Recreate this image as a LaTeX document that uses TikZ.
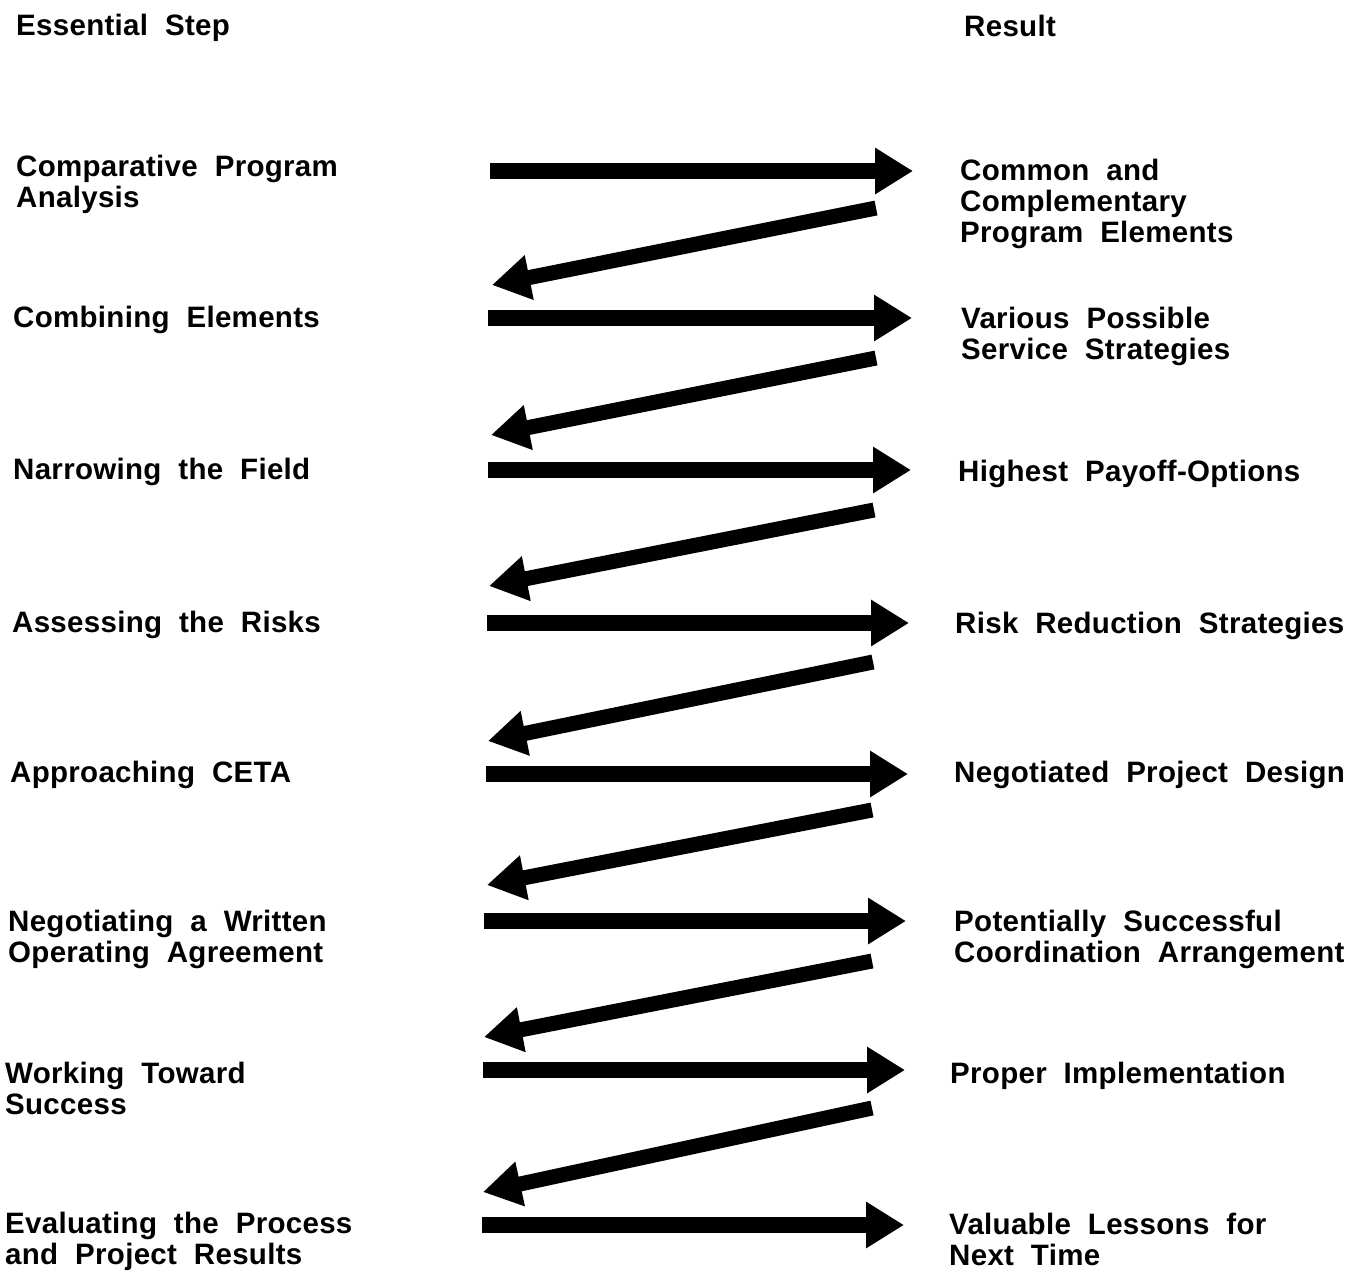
\documentclass[tikz,border=0pt]{standalone}
\usepackage{fontspec}
\setmainfont{Liberation Sans}[LetterSpace=1, WordSpace=2.0]
\usetikzlibrary{arrows.meta}
\tikzset{
  lbl/.style={font=\fontsize{29.5}{31}\selectfont\bfseries, inner sep=0pt, anchor=base west, align=left},
  harrow/.style={line width=16pt, -{Triangle[length=38pt,width=44pt]}},
  darrow/.style={line width=15pt, -{Triangle[length=38pt,width=43pt]}},
}
\begin{document}
\begin{tikzpicture}[x=1pt,y=-1pt]
\fill[white] (0,0) rectangle (1367,1272);
\useasboundingbox (0,0) rectangle (1367,1272);

% headers
\node[lbl] (hstep) at (16,35) {Essential Step};
\node[lbl] (hres) at (964,36) {Result};

% left column (anchor = baseline of last line)
\node[lbl] (l1) at (16,207) {Comparative Program\\Analysis};
\node[lbl] (l2) at (13,327) {Combining Elements};
\node[lbl] (l3) at (13,479) {Narrowing the Field};
\node[lbl] (l4) at (12,632) {Assessing the Risks};
\node[lbl] (l5) at (10,782) {Approaching CETA};
\node[lbl] (l6) at (8,962) {Negotiating a Written\\Operating Agreement};
\node[lbl] (l7) at (5,1114) {Working Toward\\Success};
\node[lbl] (l8) at (5,1264) {Evaluating the Process\\and Project Results};

% right column
\node[lbl] (r1) at (960,242) {Common and\\Complementary\\Program Elements};
\node[lbl] (r2) at (961,359) {Various Possible\\Service Strategies};
\node[lbl] (r3) at (958,481) {Highest Payoff-Options};
\node[lbl] (r4) at (955,633) {Risk Reduction Strategies};
\node[lbl] (r5) at (954,782) {Negotiated Project Design};
\node[lbl] (r6) at (954,962) {Potentially Successful\\Coordination Arrangement};
\node[lbl] (r7) at (950,1083) {Proper Implementation};
\node[lbl] (r8) at (949,1265) {Valuable Lessons for\\Next Time};

% arrow end points
\coordinate (hs1) at (490,171);  \coordinate (he1) at (913,171);
\coordinate (hs2) at (488,318);  \coordinate (he2) at (912,318);
\coordinate (hs3) at (488,470);  \coordinate (he3) at (911,470);
\coordinate (hs4) at (487,623);  \coordinate (he4) at (909,623);
\coordinate (hs5) at (486,774);  \coordinate (he5) at (908,774);
\coordinate (hs6) at (484,921);  \coordinate (he6) at (906,921);
\coordinate (hs7) at (483,1070); \coordinate (he7) at (905,1070);
\coordinate (hs8) at (482,1225); \coordinate (he8) at (904,1225);

\coordinate (ds1) at (876,208);  \coordinate (de1) at (492,285);
\coordinate (ds2) at (876,358);  \coordinate (de2) at (491,435);
\coordinate (ds3) at (874,510);  \coordinate (de3) at (489,586);
\coordinate (ds4) at (873,662);  \coordinate (de4) at (488,741);
\coordinate (ds5) at (872,810);  \coordinate (de5) at (487,885);
\coordinate (ds6) at (872,961);  \coordinate (de6) at (484,1037);
\coordinate (ds7) at (872,1108); \coordinate (de7) at (483,1192);

\foreach \i in {1,...,8} {\draw[harrow] (hs\i) -- (he\i);}
\foreach \i in {1,...,7} {\draw[darrow] (ds\i) -- (de\i);}
\end{tikzpicture}
\end{document}
